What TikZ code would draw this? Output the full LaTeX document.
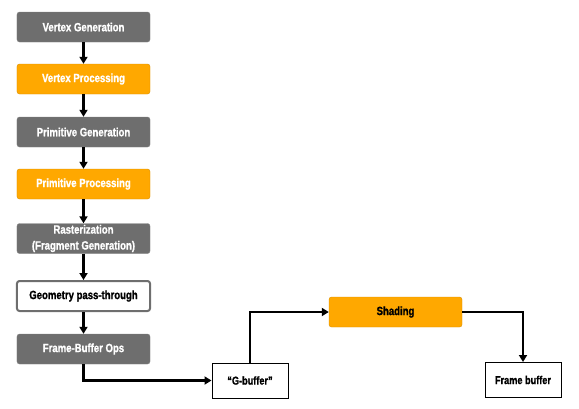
\documentclass[tikz,border=0pt]{standalone}
\usepackage{fontspec}
\setmainfont{Liberation Sans}[FakeStretch=0.8, BoldFeatures={FakeBold=1.2}]
\usetikzlibrary{arrows.meta}
\definecolor{stagegray}{HTML}{6E6E6E}
\definecolor{stageorange}{HTML}{FFA800}
\begin{document}
\begin{tikzpicture}[x=1bp,y=-1bp,
  base/.style={minimum width=133bp, minimum height=30bp, rounded corners=2.5bp, inner sep=1bp, align=center, font=\bfseries\fontsize{12}{16}\selectfont},
  graybox/.style={base, fill=stagegray, draw=stagegray!85!white, text=white},
  orangebox/.style={base, fill=stageorange, draw=stageorange!85!black, text=white},
  whitebox/.style={base, fill=white, draw=stagegray, line width=2bp, text=black},
  bufbox/.style={minimum width=76bp, minimum height=35bp, draw=black, line width=1bp, fill=white, font=\bfseries\fontsize{11.5}{12.5}\selectfont},
  shadebox/.style={base, fill=stageorange, draw=stageorange!85!black, text=black},
  conn/.style={line width=2.4bp, -{Triangle[length=7bp,width=8bp]}}
]
\useasboundingbox (0,0) rectangle (579,408);
\node[graybox] (vg) at (83.5,27) {Vertex Generation};
\node[orangebox] (vp) at (83.5,79) {Vertex Processing};
\node[graybox] (pg) at (83.5,132) {Primitive Generation};
\node[orangebox] (pp) at (83.5,184) {Primitive Processing};
\node[graybox] (ra) at (83.5,238.5) {Rasterization\\(Fragment Generation)};
\node[whitebox] (gp) at (83.5,296) {Geometry pass-through};
\node[graybox] (fb) at (83.5,349) {Frame-Buffer Ops};
\node[bufbox] (gb) at (250,380.5) {“G-buffer”};
\node[shadebox] (sh) at (395.5,312) {Shading};
\node[bufbox] (fr) at (523,380) {Frame buffer};
\draw[conn] (vg) -- (vp);
\draw[conn] (vp) -- (pg);
\draw[conn] (pg) -- (pp);
\draw[conn] (pp) -- (ra);
\draw[conn] (ra) -- (gp);
\draw[conn] (gp) -- (fb);
\draw[conn] (fb.south) |- (gb.west);
\draw[conn] (gb.north) |- (sh.west);
\draw[conn] (sh.east) -| (fr.north);
\end{tikzpicture}
\end{document}
